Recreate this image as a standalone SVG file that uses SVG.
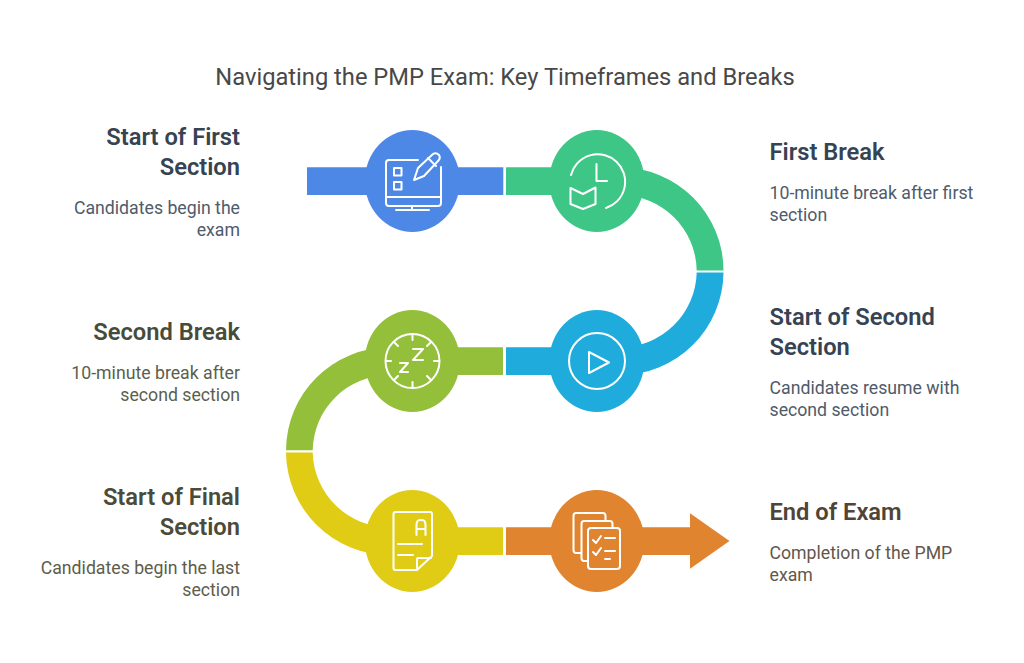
<svg xmlns="http://www.w3.org/2000/svg" width="1024" height="663" viewBox="0 0 1024 663">
<style>
text{font-family:Roboto,"Liberation Sans",sans-serif}
.title{font-size:23.7px;fill:#484848}
.h{font-size:23.7px;font-weight:600}
.d{font-size:17.7px}
.e{text-anchor:end}
.i{fill:none;stroke:#fff;stroke-width:2;stroke-linecap:round;stroke-linejoin:round}
</style>
<rect width="1024" height="663" fill="#fff"/>
<text class="title" x="505" y="85" text-anchor="middle">Navigating the PMP Exam: Key Timeframes and Breaks</text>
<g id="connectors">
<path fill="#4e88e7" d="M307 167.3H503.3V195H307Z"/>
<path fill="#3ec686" d="M506 167.3H620A103.5 103.5 0 0 1 723.5 270.5H696.7A76.700 76.700 0 0 0 620 195H506Z"/>
<path fill="#1facdc" d="M723.5 272.5A103.5 103.5 0 0 1 620 375H506V347.3H620A76.700 76.700 0 0 0 696.7 272.5Z"/>
<path fill="#94bf3a" d="M503 347.3H389.5A103.5 103.5 0 0 0 286 450.3H312.7A76.700 76.700 0 0 1 389.5 375H503Z"/>
<path fill="#e0cc14" d="M286 452.5A103.5 103.5 0 0 0 389.5 555H503V527.3H389.5A76.700 76.700 0 0 1 312.7 452.5Z"/>
<path fill="#e0842f" d="M506 527.3H690V513.3L729.5 541L690 568.7V555H506Z"/>
</g>
<g id="node1">
<ellipse cx="412.300" cy="181" rx="47.500" ry="51" fill="#4e88e7"/>
<g class="i">
<path d="M418 160H389Q386 160 386 163V203Q386 206 389 206H438Q441 206 441 203V167"/>
<path d="M386 197H441M412 206V210M396 210H429"/>
<rect x="394" y="168" width="7.500" height="7.500"/>
<rect x="394" y="182" width="7.500" height="7.500"/>
<path d="M414 180L418 168L433 154Q436 152 439 155Q441 158 438 161L424 176ZM428 158L436 166"/>
</g>
<text class="h e" x="240" y="145" fill="#364353">Start of First</text>
<text class="h e" x="240" y="175" fill="#364353">Section</text>
<text class="d e" x="240" y="213.700" fill="#4f5b6b">Candidates begin the</text>
<text class="d e" x="240" y="235.700" fill="#4f5b6b">exam</text>
</g>
<g id="node2">
<ellipse cx="596.800" cy="181" rx="47.500" ry="51" fill="#3ec686"/>
<g class="i">
<path d="M571 175A27.500 27.500 0 1 1 606 208"/>
<path d="M596.500 164V181H607"/>
<path d="M570.500 188L583 194L595.500 187.500V204L583 209L570.500 204Z"/>
</g>
<text class="h" x="769.500" y="160" fill="#364353">First Break</text>
<text class="d" x="769.500" y="198.700" fill="#4f5b6b">10-minute break after first</text>
<text class="d" x="769.500" y="220.700" fill="#4f5b6b">section</text>
</g>
<g id="node3">
<ellipse cx="596.800" cy="361" rx="47.500" ry="51" fill="#1facdc"/>
<g class="i">
<circle cx="597" cy="361" r="28"/>
<path d="M589 352L609 362.500L589 373Z"/>
</g>
<text class="h" x="769.500" y="325" fill="#364353">Start of Second</text>
<text class="h" x="769.500" y="355" fill="#364353">Section</text>
<text class="d" x="769.500" y="393.700" fill="#4f5b6b">Candidates resume with</text>
<text class="d" x="769.500" y="415.700" fill="#4f5b6b">second section</text>
</g>
<g id="node4">
<ellipse cx="412.300" cy="361" rx="47.500" ry="51" fill="#94bf3a"/>
<g class="i">
<circle cx="412.500" cy="361" r="27"/>
<path d="M412.500 334V340M412.500 382V388M386 361H391M434 361H439M394 342L398 346M431 342L427 346M394 380L398 376M431 380L427 376"/>
<path d="M413 349H423L413 360H423M400 363H408L400 372H408"/>
</g>
<text class="h e" x="240" y="340" fill="#474c3a">Second Break</text>
<text class="d e" x="240" y="378.700" fill="#5a5f4e">10-minute break after</text>
<text class="d e" x="240" y="400.700" fill="#5a5f4e">second section</text>
</g>
<g id="node5">
<ellipse cx="412.300" cy="541" rx="47.500" ry="51" fill="#e0cc14"/>
<g class="i">
<path d="M393.500 514Q393.500 512 395.500 512H430Q432 512 432 514V556L417 570H395.500Q393.500 570 393.500 568Z"/>
<path d="M416.500 535V525Q416.500 520 420 520H422Q425.500 520 425.500 525V535M416.500 529H425.500"/>
<path d="M398 544H422M398 555H413"/>
<path d="M417 570V559Q417 558 418 558H431"/>
</g>
<text class="h e" x="240" y="505" fill="#4c4a38">Start of Final</text>
<text class="h e" x="240" y="535" fill="#4c4a38">Section</text>
<text class="d e" x="240" y="573.700" fill="#5e5c4a">Candidates begin the last</text>
<text class="d e" x="240" y="595.700" fill="#5e5c4a">section</text>
</g>
<g id="node6">
<ellipse cx="596.800" cy="541" rx="47.500" ry="51" fill="#e0842f"/>
<g class="i">
<path d="M581 553H576Q573.500 553 573.500 550V516Q573.500 513 576 513H603Q605.500 513 605.500 516V520"/>
<path d="M588 561H584Q581.500 561 581.500 558V524Q581.500 521 584 521H610Q612.500 521 612.500 524V528"/>
<rect x="588" y="528" width="32" height="41" rx="3"/>
<path d="M593 540L596 543L601 536M593 552L596 555L601 548M605 538H615M605 551H615M605 559H610"/>
</g>
<text class="h" x="769.500" y="520" fill="#504437">End of Exam</text>
<text class="d" x="769.500" y="558.700" fill="#62574c">Completion of the PMP</text>
<text class="d" x="769.500" y="580.700" fill="#62574c">exam</text>
</g>
</svg>
